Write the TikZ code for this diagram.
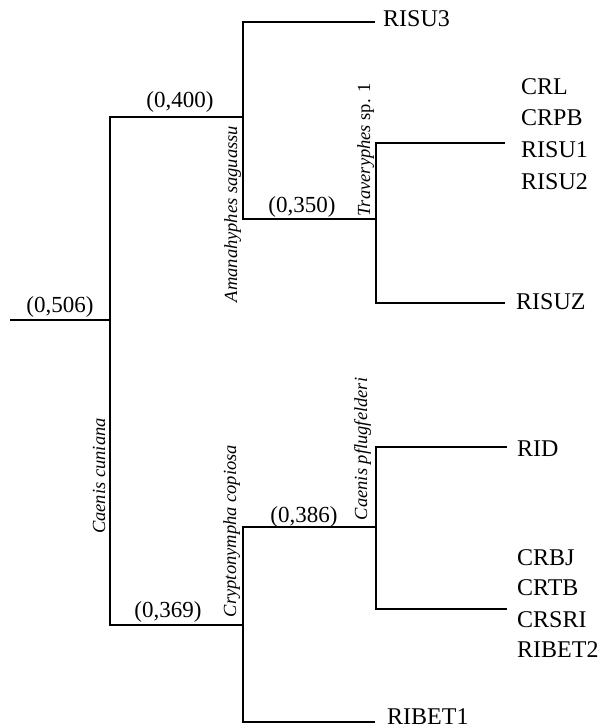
\documentclass[tikz,border=0pt]{standalone}
\usepackage{fontspec}
\setmainfont{Liberation Serif}
\begin{document}
\begin{tikzpicture}[x=1pt,y=-1pt,
  br/.style={line width=1.8pt},
  leaf/.style={anchor=base west, inner sep=0pt, font=\fontsize{24}{28}\selectfont},
  val/.style={anchor=base, inner sep=0pt, font=\fontsize{23}{27}\selectfont},
  taxon/.style={rotate=90, anchor=base, inner sep=0pt, font=\fontsize{18.5}{22}\selectfont\itshape}]
\useasboundingbox (0,0) rectangle (606,727);
% junctions and branch ends
\coordinate (r) at (10,320);
\coordinate (A) at (110,320);
\coordinate (B) at (243,117);
\coordinate (C) at (376,219);
\coordinate (D) at (243,625);
\coordinate (E) at (376,527);
\coordinate (eRISU3) at (375,22);
\coordinate (eC1) at (505,143);
\coordinate (eC2) at (505,303);
\coordinate (eE1) at (507,447);
\coordinate (eE2) at (507,609);
\coordinate (eRIBET1) at (375,722);
% branches
\draw[br] (r) -- (A);
\draw[br] (A) |- (B);
\draw[br] (A) |- (D);
\draw[br] (B) |- (eRISU3);
\draw[br] (B) |- (C);
\draw[br] (C) |- (eC1);
\draw[br] (C) |- (eC2);
\draw[br] (D) |- (E);
\draw[br] (D) |- (eRIBET1);
\draw[br] (E) |- (eE1);
\draw[br] (E) |- (eE2);
% leaf labels
\node[leaf] (tRISU3) at (383,27) {RISU3};
\node[leaf] (tCRL) at (521,95) {CRL};
\node[leaf] (tCRPB) at (521,126) {CRPB};
\node[leaf] (tRISU1) at (521,158) {RISU1};
\node[leaf] (tRISU2) at (521,190) {RISU2};
\node[leaf] (tRISUZ) at (516,309) {RISUZ};
\node[leaf] (tRID) at (517,456) {RID};
\node[leaf] (tCRBJ) at (517,565) {CRBJ};
\node[leaf] (tCRTB) at (517,595) {CRTB};
\node[leaf] (tCRSRI) at (517,627) {CRSRI};
\node[leaf] (tRIBET2) at (517,657) {RIBET2};
\node[leaf] (tRIBET1) at (387,724) {RIBET1};
% branch values
\node[val] (v506) at (60,312) {(0,506)};
\node[val] (v400) at (180,108) {(0,400)};
\node[val] (v350) at (302,213) {(0,350)};
\node[val] (v369) at (168,617) {(0,369)};
\node[val] (v386) at (304,522) {(0,386)};
% taxon names
\node[taxon] (xAma) at (237,214) {Amanahyphes saguassu};
\node[taxon] (xTra) at (370,150) {Traveryphes\upshape{} sp. 1};
\node[taxon] (xCun) at (105,476) {Caenis cuniana};
\node[taxon] (xCry) at (236,531) {Cryptonympha copiosa};
\node[taxon] (xPfl) at (367,449) {Caenis pflugfelderi};
\end{tikzpicture}
\end{document}
